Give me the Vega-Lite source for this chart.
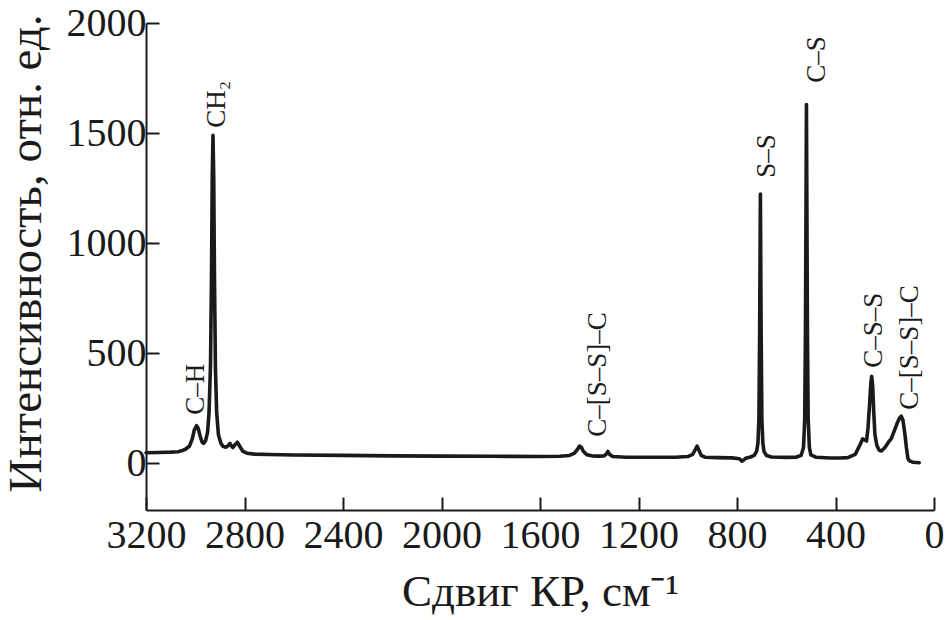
{
  "$schema": "https://vega.github.io/schema/vega-lite/v6.json",
  "width": 788,
  "height": 487,
  "autosize": {"type": "none"},
  "padding": {"left": 146, "top": 23, "right": 11, "bottom": 110},
  "background": "white",
  "config": {
    "view": {"stroke": null},
    "axis": {
      "grid": false,
      "domainColor": "#1a1a1a",
      "domainWidth": 2,
      "tickColor": "#1a1a1a",
      "tickWidth": 2,
      "tickSize": -13,
      "labelFont": "Liberation Serif",
      "labelFontSize": 40,
      "labelColor": "#1a1a1a",
      "titleFont": "Liberation Serif",
      "titleFontSize": 45,
      "titleFontWeight": "normal",
      "titleColor": "#1a1a1a"
    }
  },
  "datasets": {
    "spectrum": [
      {"shift": 3200, "intensity": 47}, {"shift": 3150, "intensity": 48}, {"shift": 3100, "intensity": 50},
      {"shift": 3070, "intensity": 52}, {"shift": 3056, "intensity": 56}, {"shift": 3040, "intensity": 63},
      {"shift": 3023, "intensity": 78}, {"shift": 3012, "intensity": 110}, {"shift": 3004, "intensity": 150},
      {"shift": 2995, "intensity": 170}, {"shift": 2988, "intensity": 158}, {"shift": 2980, "intensity": 122},
      {"shift": 2972, "intensity": 95}, {"shift": 2966, "intensity": 90}, {"shift": 2958, "intensity": 102},
      {"shift": 2950, "intensity": 140}, {"shift": 2944, "intensity": 230}, {"shift": 2938, "intensity": 450},
      {"shift": 2934, "intensity": 850}, {"shift": 2931, "intensity": 1300}, {"shift": 2928, "intensity": 1490},
      {"shift": 2925, "intensity": 1300}, {"shift": 2922, "intensity": 850}, {"shift": 2918, "intensity": 430},
      {"shift": 2913, "intensity": 230}, {"shift": 2906, "intensity": 130}, {"shift": 2896, "intensity": 90},
      {"shift": 2887, "intensity": 76}, {"shift": 2876, "intensity": 72}, {"shift": 2866, "intensity": 80},
      {"shift": 2859, "intensity": 90}, {"shift": 2853, "intensity": 78}, {"shift": 2847, "intensity": 71},
      {"shift": 2838, "intensity": 84}, {"shift": 2829, "intensity": 95}, {"shift": 2820, "intensity": 78},
      {"shift": 2806, "intensity": 53}, {"shift": 2790, "intensity": 45}, {"shift": 2760, "intensity": 41},
      {"shift": 2700, "intensity": 39}, {"shift": 2600, "intensity": 37}, {"shift": 2400, "intensity": 35},
      {"shift": 2200, "intensity": 33}, {"shift": 2000, "intensity": 32}, {"shift": 1800, "intensity": 31},
      {"shift": 1600, "intensity": 30}, {"shift": 1520, "intensity": 31}, {"shift": 1480, "intensity": 35},
      {"shift": 1460, "intensity": 45}, {"shift": 1448, "intensity": 62}, {"shift": 1440, "intensity": 77},
      {"shift": 1432, "intensity": 72}, {"shift": 1425, "intensity": 55}, {"shift": 1410, "intensity": 38},
      {"shift": 1390, "intensity": 33}, {"shift": 1360, "intensity": 32}, {"shift": 1340, "intensity": 33},
      {"shift": 1330, "intensity": 42}, {"shift": 1324, "intensity": 53}, {"shift": 1318, "intensity": 40},
      {"shift": 1305, "intensity": 30}, {"shift": 1250, "intensity": 27}, {"shift": 1150, "intensity": 27},
      {"shift": 1050, "intensity": 27}, {"shift": 1000, "intensity": 30}, {"shift": 980, "intensity": 40},
      {"shift": 970, "intensity": 60}, {"shift": 962, "intensity": 77}, {"shift": 955, "intensity": 60},
      {"shift": 945, "intensity": 35}, {"shift": 930, "intensity": 27}, {"shift": 880, "intensity": 25},
      {"shift": 820, "intensity": 24}, {"shift": 790, "intensity": 20}, {"shift": 780, "intensity": 9},
      {"shift": 775, "intensity": 12}, {"shift": 765, "intensity": 22}, {"shift": 745, "intensity": 28},
      {"shift": 730, "intensity": 35}, {"shift": 720, "intensity": 55}, {"shift": 715, "intensity": 90},
      {"shift": 711, "intensity": 200}, {"shift": 708, "intensity": 600}, {"shift": 705, "intensity": 1223},
      {"shift": 702, "intensity": 600}, {"shift": 699, "intensity": 200}, {"shift": 695, "intensity": 90},
      {"shift": 690, "intensity": 52}, {"shift": 680, "intensity": 35}, {"shift": 660, "intensity": 28},
      {"shift": 600, "intensity": 26}, {"shift": 560, "intensity": 27}, {"shift": 540, "intensity": 35},
      {"shift": 530, "intensity": 70}, {"shift": 525, "intensity": 200}, {"shift": 522, "intensity": 600},
      {"shift": 518, "intensity": 1629}, {"shift": 514, "intensity": 600}, {"shift": 511, "intensity": 200},
      {"shift": 506, "intensity": 70}, {"shift": 500, "intensity": 38}, {"shift": 480, "intensity": 27},
      {"shift": 420, "intensity": 23}, {"shift": 380, "intensity": 23}, {"shift": 350, "intensity": 25},
      {"shift": 320, "intensity": 40}, {"shift": 310, "intensity": 62}, {"shift": 300, "intensity": 85},
      {"shift": 290, "intensity": 110}, {"shift": 282, "intensity": 106}, {"shift": 274, "intensity": 100},
      {"shift": 268, "intensity": 160}, {"shift": 262, "intensity": 260}, {"shift": 256, "intensity": 370},
      {"shift": 253, "intensity": 394}, {"shift": 249, "intensity": 350}, {"shift": 245, "intensity": 240},
      {"shift": 240, "intensity": 130}, {"shift": 232, "intensity": 80}, {"shift": 222, "intensity": 58},
      {"shift": 214, "intensity": 55}, {"shift": 200, "intensity": 70}, {"shift": 185, "intensity": 95},
      {"shift": 174, "intensity": 110}, {"shift": 160, "intensity": 150}, {"shift": 150, "intensity": 180},
      {"shift": 140, "intensity": 205}, {"shift": 133, "intensity": 213}, {"shift": 126, "intensity": 195},
      {"shift": 118, "intensity": 130}, {"shift": 112, "intensity": 70}, {"shift": 106, "intensity": 22},
      {"shift": 100, "intensity": 10}, {"shift": 85, "intensity": 4}, {"shift": 60, "intensity": 2}
    ],
    "labels": [
      {"label": "C–H", "shift": 2997, "intensity": 220},
      {"label": "CH₂", "shift": 2910, "intensity": 1524},
      {"label": "C–[S–S]–C", "shift": 1366, "intensity": 120},
      {"label": "S–S", "shift": 679, "intensity": 1297},
      {"label": "C–S", "shift": 476, "intensity": 1728},
      {"label": "C–S–S", "shift": 243, "intensity": 433},
      {"label": "C–[S–S]–C", "shift": 99, "intensity": 242}
    ]
  },
  "layer": [
    {
      "data": {"name": "spectrum"},
      "mark": {"type": "line", "color": "#1a1a1a", "strokeWidth": 3.6, "strokeJoin": "round", "strokeCap": "round"},
      "encoding": {
        "x": {
          "field": "shift", "type": "quantitative",
          "scale": {"domain": [0, 3200], "reverse": true, "nice": false, "zero": false},
          "axis": {
            "title": "Сдвиг КР, см⁻¹",
            "values": [0, 400, 800, 1200, 1600, 2000, 2400, 2800, 3200],
            "format": "d",
            "labelPadding": 18,
            "labelFlush": false,
            "labelOverlap": false,
            "titleY": 95,
            "titleBaseline": "alphabetic"
          }
        },
        "y": {
          "field": "intensity", "type": "quantitative",
          "scale": {"domain": [-213, 2000], "nice": false, "zero": false},
          "axis": {
            "title": "Интенсивность, отн. ед.",
            "values": [0, 500, 1000, 1500, 2000],
            "format": "d",
            "labelPadding": 13,
            "labelFlush": false,
            "labelOverlap": false,
            "titleFontSize": 47,
            "titleX": -106,
            "titleY": 230,
            "titleBaseline": "alphabetic"
          }
        },
        "order": {"field": "shift", "sort": "descending"}
      }
    },
    {
      "data": {"name": "labels"},
      "mark": {"type": "text", "angle": 270, "align": "left", "baseline": "middle", "font": "Liberation Serif", "fontSize": 27, "color": "#1a1a1a"},
      "encoding": {
        "x": {"field": "shift", "type": "quantitative"},
        "y": {"field": "intensity", "type": "quantitative"},
        "text": {"field": "label"}
      }
    }
  ]
}
